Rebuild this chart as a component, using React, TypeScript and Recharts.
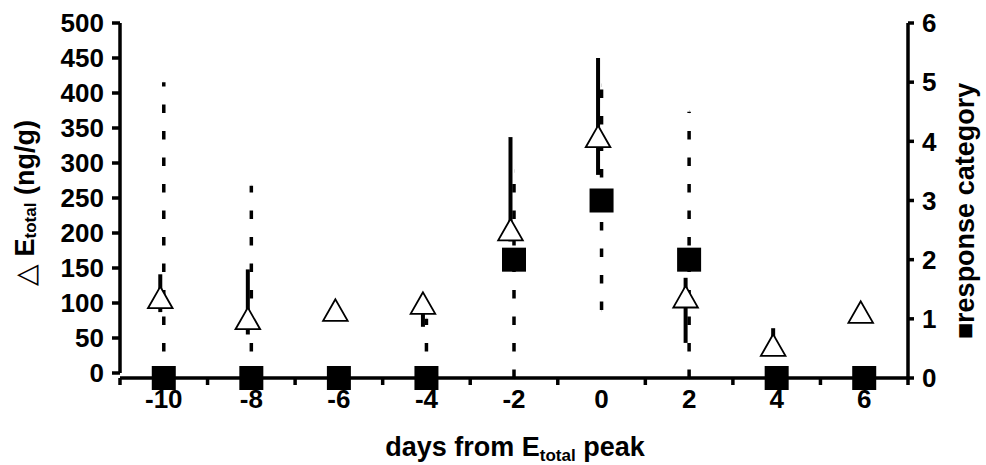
import React from 'react';
import { ComposedChart, Scatter, XAxis, YAxis, ErrorBar, ReferenceLine } from 'recharts';

// ---- data ----
const days = [-10, -8, -6, -4, -2, 0, 2, 4, 6];
const deltaE = [108, 78, 90, 100, 205, 338, 109, 40, 87];
const deltaELow = [87, 55, 90, 66, 188, 283, 43, 30, 87];
const deltaEHigh = [141, 148, 90, 100, 337, 450, 136, 64, 87];
const response = [0, 0, 0, 0, 2, 3, 2, 0, 0];
const responseLow = [0, 0, 0, 0, 0, 1.15, 0, 0, 0];
const responseHigh = [5.0, 3.25, 0, 1.0, 3.5, 4.95, 4.5, 0, 0];

const leftTicks = [0, 50, 100, 150, 200, 250, 300, 350, 400, 450, 500];
const rightTicks = [0, 1, 2, 3, 4, 5, 6];
const xTickValues = [-11, -10, -9, -8, -7, -6, -5, -4, -3, -2, -1, 0, 1, 2, 3, 4, 5, 6, 7];

const data = days.map((d, i) => ({
  day: d,
  delta: deltaE[i],
  deltaErr: [deltaE[i] - deltaELow[i], deltaEHigh[i] - deltaE[i]],
  resp: response[i],
  respErr: [response[i] - responseLow[i], responseHigh[i] - response[i]],
}));

const FONT = '"Liberation Sans", Arial, Helvetica, sans-serif';
const TICK_FS = 26;
const TITLE_FS = 27;
const SUB_FS = 17;
const AXIS_W = 3.5;

const XTick = (props: any) => {
  const { x, y, payload } = props;
  const v = payload.value;
  const axisY = y - 10;
  if (Math.abs(v) % 2 === 1) {
    return <line x1={x} x2={x} y1={axisY} y2={axisY + 7} stroke="#000" strokeWidth={AXIS_W} />;
  }
  return (
    <text x={x} y={axisY + 30} textAnchor="middle" fill="#000" fontSize={TICK_FS} fontWeight="bold" fontFamily={FONT}>
      {v}
    </text>
  );
};

const Triangle = (props: any) => {
  const { cx, cy } = props;
  if (cx == null || cy == null) return null;
  const hw = 12.3;
  const hh = 10.8;
  return (
    <polygon
      points={`${cx},${cy - hh} ${cx - hw},${cy + hh} ${cx + hw},${cy + hh}`}
      fill="#fff"
      stroke="#000"
      strokeWidth={1.8}
    />
  );
};

const Square = (props: any) => {
  const { cx, cy } = props;
  if (cx == null || cy == null) return null;
  return <rect x={cx - 12} y={cy - 12} width={24} height={24} fill="#000" />;
};

const LeftTitle = () => (
  <text
    transform="rotate(-90, 25, 203)"
    x={25}
    y={203}
    textAnchor="middle"
    dominantBaseline="central"
    fill="#000"
    fontSize={TITLE_FS}
    fontWeight="bold"
    fontFamily={FONT}
  >
    <tspan fontWeight="normal" fontSize={28}>{'\u25B3'}</tspan>
    <tspan>{' E'}</tspan>
    <tspan dy={5} fontSize={SUB_FS}>total</tspan>
    <tspan dy={-5}>{' (ng/g)'}</tspan>
  </text>
);

const RightTitle = () => (
  <text
    transform="rotate(-90, 965, 211)"
    x={965}
    y={211}
    textAnchor="middle"
    dominantBaseline="central"
    fill="#000"
    fontSize={TITLE_FS}
    fontWeight="bold"
    fontFamily={FONT}
  >
    {'\u25A0response category'}
  </text>
);

const XTitle = () => (
  <text x={515} y={456} textAnchor="middle" fill="#000" fontSize={TITLE_FS} fontWeight="bold" fontFamily={FONT}>
    <tspan>days from E</tspan>
    <tspan dy={5} fontSize={SUB_FS}>total</tspan>
    <tspan dy={-5}>{' peak'}</tspan>
  </text>
);

export default function App() {
  return (
    <div style={{ position: 'absolute', left: 0, top: 0, width: 986, height: 465, background: '#fff' }}>
      <ComposedChart width={986} height={465} data={data} margin={{ top: 23, right: 8, bottom: 0, left: 0 }}>
        <XAxis
          xAxisId="main"
          dataKey="day"
          type="number"
          domain={[-11, 7]}
          ticks={xTickValues}
          interval={0}
          height={87}
          tickSize={7}
          tickMargin={3}
          tickLine={false}
          tick={<XTick />}
          axisLine={{ stroke: '#000', strokeWidth: AXIS_W }}
          label={() => <XTitle />}
        />
        <XAxis xAxisId="tri" dataKey="day" type="number" domain={[-10.92, 7.08]} hide />
        <YAxis
          yAxisId="left"
          type="number"
          domain={[-7.14, 500]}
          ticks={leftTicks}
          interval={0}
          width={120}
          tickSize={8}
          tickMargin={8}
          axisLine={false}
          tickLine={{ stroke: '#000', strokeWidth: AXIS_W }}
          tick={{ fill: '#000', fontSize: TICK_FS, fontWeight: 'bold', fontFamily: FONT }}
          label={() => <LeftTitle />}
        />
        <YAxis
          yAxisId="right"
          orientation="right"
          type="number"
          domain={[0, 6]}
          ticks={rightTicks}
          interval={0}
          width={70}
          tickSize={6}
          tickMargin={8}
          axisLine={{ stroke: '#000', strokeWidth: AXIS_W }}
          tickLine={{ stroke: '#000', strokeWidth: AXIS_W }}
          tick={{ fill: '#000', fontSize: TICK_FS, fontWeight: 'bold', fontFamily: FONT, textAnchor: 'start' }}
          label={() => <RightTitle />}
        />
        <ReferenceLine
          xAxisId="main"
          yAxisId="left"
          segment={[{ x: -11, y: 0 }, { x: -11, y: 500 }]}
          stroke="#000"
          strokeWidth={AXIS_W}
          ifOverflow="visible"
        />
        <Scatter
          name="response category"
          xAxisId="main"
          yAxisId="right"
          dataKey="resp"
          shape={<Square />}
          isAnimationActive={false}
        >
          <ErrorBar
            dataKey="respErr"
            direction="y"
            width={0}
            stroke="#000"
            strokeWidth={3.5}
            strokeDasharray="8.5 18"
            isAnimationActive={false}
          />
        </Scatter>
        <Scatter
          name="delta E total"
          xAxisId="tri"
          yAxisId="left"
          dataKey="delta"
          shape={<Triangle />}
          isAnimationActive={false}
        >
          <ErrorBar
            dataKey="deltaErr"
            direction="y"
            width={0}
            stroke="#000"
            strokeWidth={4}
            isAnimationActive={false}
          />
        </Scatter>
      </ComposedChart>
    </div>
  );
}
